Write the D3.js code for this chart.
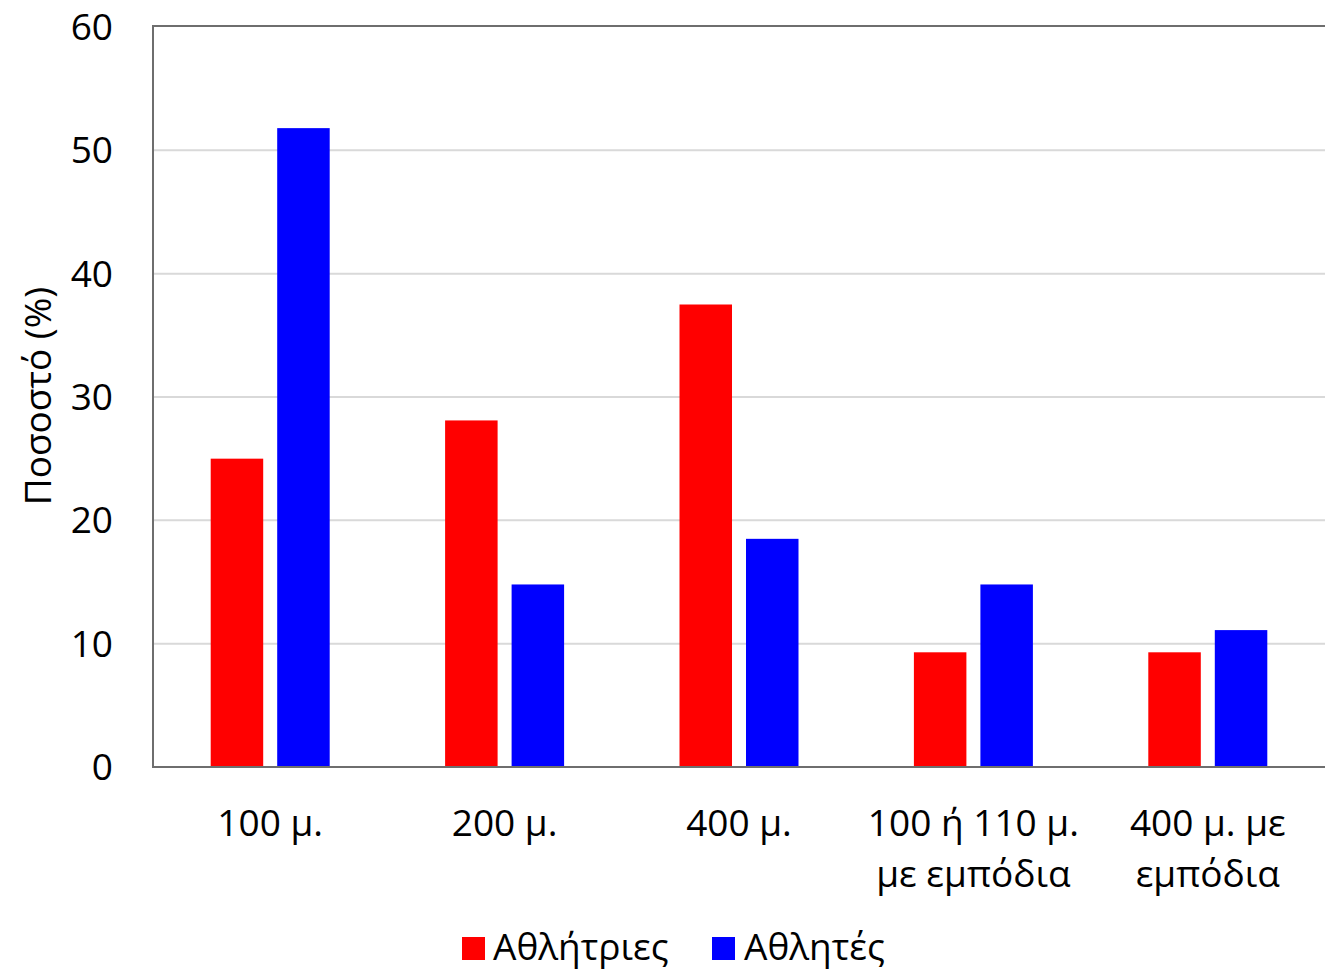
<!DOCTYPE html>
<html><head><meta charset="utf-8">
<script src="https://cdn.jsdelivr.net/npm/d3@7"></script>
<style>body{margin:0;background:#fff}svg{display:block}text{font-family:"Open Sans","Noto Sans",sans-serif;fill:#000}</style>
</head><body><svg id="c" width="1325" height="971"></svg>
<script>
const categories = [["100 μ."],["200 μ."],["400 μ."],["100 ή 110 μ.","με εμπόδια"],["400 μ. με","εμπόδια"]];
const seriesNames = ["Αθλήτριες","Αθλητές"];
const women = [25.0, 28.1, 37.5, 9.3, 9.3];
const men = [51.8, 14.8, 18.5, 14.8, 11.1];
const yTicks = [0,10,20,30,40,50,60];
const colors = ["#ff0000","#0000ff"];
const yTitle = "Ποσοστό (%)";

const svg = d3.select("#c");
const L=153, R=1325, T=27, B=767;
const FS = 37;
const x = d3.scaleBand().domain(d3.range(categories.length)).range([L,R]).paddingInner(0).paddingOuter(0);
const y = d3.scaleLinear().domain([0,60]).range([B,T]);
const bw = 52.5, gap = 14;

// gridlines
svg.append("g").selectAll("line").data(yTicks.filter(t=>t>0&&t<60)).join("line")
  .attr("x1",L).attr("x2",R).attr("y1",d=>y(d)).attr("y2",d=>y(d))
  .attr("stroke","#d9d9d9").attr("stroke-width",2);

// bars
const series=[women,men];
series.forEach((s,si)=>{
  svg.append("g").selectAll("rect").data(s).join("rect")
    .attr("x",(d,i)=>x(i)+x.bandwidth()/2 + (si===0? -gap/2-bw : gap/2))
    .attr("width",bw)
    .attr("y",d=>y(d)).attr("height",d=>B-y(d))
    .attr("fill",colors[si]);
});

// axes lines
svg.append("line").attr("x1",L).attr("x2",L).attr("y1",T-1).attr("y2",B+1).attr("stroke","#6e6e6e").attr("stroke-width",2);
svg.append("line").attr("x1",L-1).attr("x2",R).attr("y1",B).attr("y2",B).attr("stroke","#6e6e6e").attr("stroke-width",2);
svg.append("line").attr("x1",L-1).attr("x2",R).attr("y1",T-1).attr("y2",T-1).attr("stroke","#6e6e6e").attr("stroke-width",2);

// y ticks labels
svg.append("g").selectAll("text").data(yTicks).join("text")
  .attr("x",113).attr("y",d=>y(d)).attr("dy","0.35em").attr("text-anchor","end")
  .attr("font-size",FS).text(d=>d);

// y title
svg.append("text").attr("transform","translate(51,396) rotate(-90)").attr("text-anchor","middle")
  .attr("font-size",FS).text(yTitle);

// x labels
const xl = svg.append("g").selectAll("text").data(categories).join("text")
  .attr("text-anchor","middle").attr("font-size",FS);
xl.each(function(d,i){
  d3.select(this).selectAll("tspan").data(d).join("tspan")
    .attr("x",x(i)+x.bandwidth()/2).attr("y",(t,j)=>836+j*51).text(t=>t);
});

// legend
const leg=[{x:462,tx:493},{x:712,tx:744}];
seriesNames.forEach((n,i)=>{
  svg.append("rect").attr("x",leg[i].x).attr("y",937).attr("width",23).attr("height",23).attr("fill",colors[i]);
  svg.append("text").attr("x",leg[i].tx).attr("y",960).attr("font-size",FS).text(n);
});
</script></body></html>
